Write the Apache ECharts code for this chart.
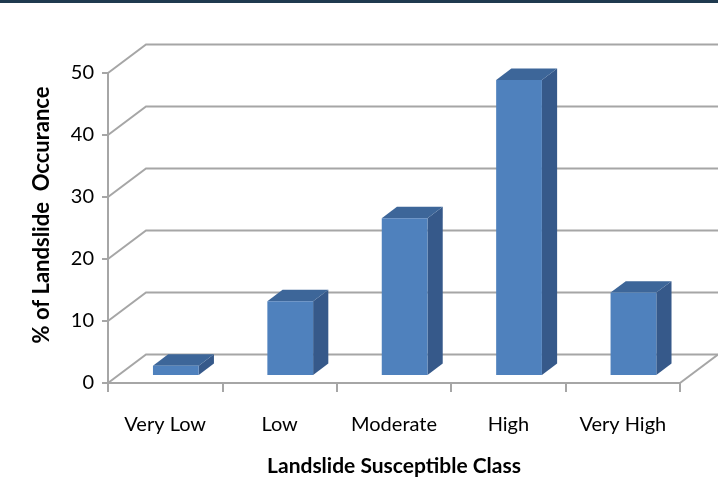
<!DOCTYPE html>
<html>
<head>
<meta charset="utf-8">
<style>
  html, body { margin: 0; padding: 0; background: #ffffff; }
  #chart { width: 718px; height: 483px; }
</style>
<script src="https://cdn.jsdelivr.net/npm/echarts@6/dist/echarts.min.js"></script>
</head>
<body>
<div id="chart"></div>
<script>
// Landslide occurrence per susceptibility class
const categories = ['Very Low', 'Low', 'Moderate', 'High', 'Very High'];
const occurrence = [1.5, 11.9, 25.3, 47.6, 13.3];
const valueTicks = [0, 10, 20, 30, 40, 50];

// Oblique depth of the chart box (pixels from front plane to back wall)
const DEPTH_X = 38;
const DEPTH_Y = -28.5;
// Bars occupy this slice of the depth
const BAR_FRONT = 0.28;
const BAR_BACK = 0.68;
const BAR_WIDTH_RATIO = 0.4;

const GRID_COLOR = '#a6a6a6';
const TEXT_COLOR = '#000000';
const FONT = 'Lato, "Open Sans", sans-serif';

const chart = echarts.init(document.getElementById('chart'), null, { renderer: 'canvas' });

// Back wall gridlines plus the left wall and floor edges
function renderWall(params, api) {
  const cs = params.coordSys;
  const v = api.value(1);
  const p = api.coord([0, v]);
  const y = p[1];
  const x0 = cs.x;
  const x1 = cs.x + cs.width;
  const children = [{
    type: 'polyline',
    shape: { points: [[x0, y], [x0 + DEPTH_X, y + DEPTH_Y], [x1 + DEPTH_X, y + DEPTH_Y]] },
    style: { stroke: GRID_COLOR, lineWidth: 2, fill: null }
  }];
  if (v === 0) {
    children.push({
      type: 'line',
      shape: { x1: x1, y1: y, x2: x1 + DEPTH_X, y2: y + DEPTH_Y },
      style: { stroke: GRID_COLOR, lineWidth: 2 }
    });
  }
  return { type: 'group', children: children };
}

// Oblique 3D-style column: front face, top face and right side face
function renderBar(params, api) {
  const idx = api.value(0);
  const top = api.coord([idx, api.value(1)]);
  const base = api.coord([idx, 0]);
  const w = api.size([1, 0])[0] * BAR_WIDTH_RATIO;
  const fdx = DEPTH_X * BAR_FRONT, fdy = DEPTH_Y * BAR_FRONT;
  const bdx = DEPTH_X * (BAR_BACK - BAR_FRONT), bdy = DEPTH_Y * (BAR_BACK - BAR_FRONT);
  const left = top[0] + fdx - w / 2;
  const right = left + w;
  const ty = top[1] + fdy;
  const by = base[1] + fdy;
  return {
    type: 'group',
    children: [
      {
        type: 'polygon',
        shape: { points: [[right, ty], [right + bdx, ty + bdy], [right + bdx, by + bdy], [right, by]] },
        style: { fill: '#36598a' }
      },
      {
        type: 'polygon',
        shape: { points: [[left, ty], [left + bdx, ty + bdy], [right + bdx, ty + bdy], [right, ty]] },
        style: { fill: '#3d6699' }
      },
      {
        type: 'rect',
        shape: { x: left, y: ty, width: w, height: by - ty },
        style: { fill: '#4f81bd' }
      }
    ]
  };
}

chart.setOption({
  animation: false,
  backgroundColor: '#ffffff',
  grid: { left: 108, right: 38, top: 73, bottom: 100, containLabel: false },
  xAxis: {
    type: 'category',
    data: categories,
    boundaryGap: true,
    axisLine: { show: true, lineStyle: { color: GRID_COLOR, width: 2 } },
    axisTick: { show: true, length: 9, alignWithLabel: false, lineStyle: { color: GRID_COLOR, width: 2 } },
    axisLabel: { color: TEXT_COLOR, fontFamily: FONT, fontSize: 20, margin: 32 },
    splitLine: { show: false },
    name: 'Landslide Susceptible Class',
    nameLocation: 'middle',
    nameGap: 73,
    nameTextStyle: { color: TEXT_COLOR, fontFamily: FONT, fontSize: 21, fontWeight: 'bold' }
  },
  yAxis: {
    type: 'value',
    min: 0,
    max: 50,
    interval: 10,
    axisLine: { show: true, lineStyle: { color: GRID_COLOR, width: 2 } },
    axisTick: { show: true, length: 6, lineStyle: { color: GRID_COLOR, width: 2 } },
    axisLabel: { color: TEXT_COLOR, fontFamily: FONT, fontSize: 20, margin: 14 },
    splitLine: { show: false }
  },
  graphic: [
    {
      type: 'rect',
      left: 0, top: 0,
      shape: { width: 718, height: 3 },
      style: { fill: '#1f3a4f' }
    },
    {
      type: 'text',
      x: 42, y: 215,
      rotation: Math.PI / 2,
      style: {
        text: '% of Landslide  Occurance',
        fill: TEXT_COLOR,
        font: 'bold 22px ' + FONT,
        align: 'center',
        verticalAlign: 'middle'
      }
    }
  ],
  series: [
    {
      type: 'custom',
      renderItem: renderWall,
      encode: { x: 0, y: 1 },
      data: valueTicks.map(v => [0, v]),
      silent: true,
      z: 1
    },
    {
      type: 'custom',
      renderItem: renderBar,
      encode: { x: 0, y: 1 },
      data: occurrence.map((v, i) => [i, v]),
      z: 2
    }
  ]
});
</script>
</body>
</html>
